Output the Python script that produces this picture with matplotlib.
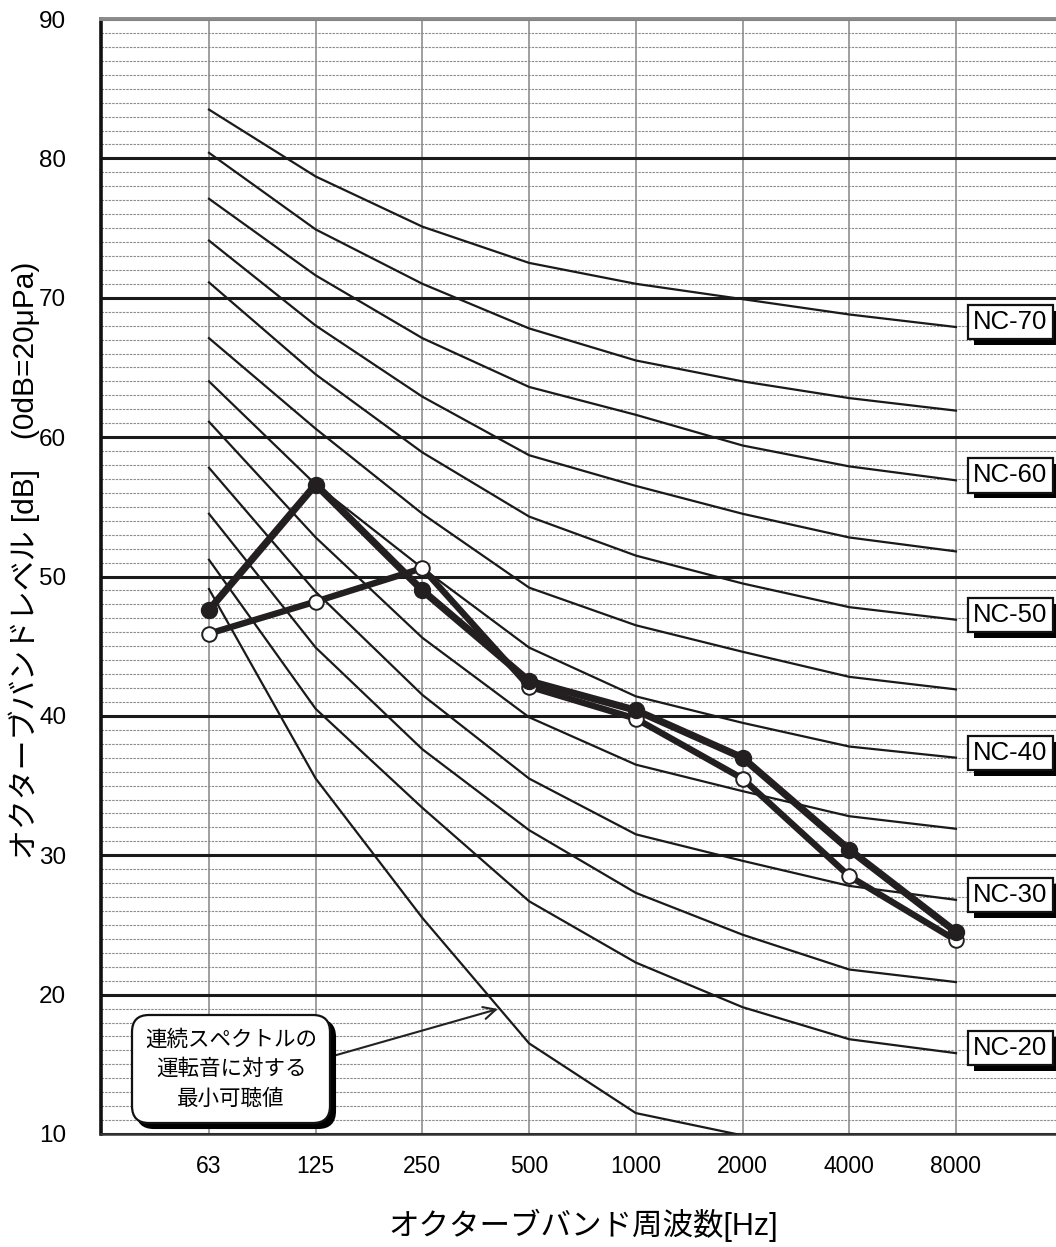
import matplotlib
matplotlib.use("Agg")
import matplotlib.pyplot as plt
from matplotlib.patches import FancyBboxPatch
import matplotlib.patheffects as pe

# ---------------- data ----------------
freqs = ["63", "125", "250", "500", "1000", "2000", "4000", "8000"]

nc70 = [83.5, 78.7, 75.1, 72.5, 71.0, 69.9, 68.8, 67.9]
nc65 = [80.4, 74.9, 71.0, 67.8, 65.5, 64.0, 62.8, 61.9]
nc60 = [77.1, 71.6, 67.1, 63.6, 61.6, 59.4, 57.9, 56.9]
nc55 = [74.1, 68.0, 62.9, 58.7, 56.5, 54.5, 52.8, 51.8]
nc50 = [71.1, 64.5, 58.9, 54.3, 51.5, 49.5, 47.8, 46.9]
nc45 = [67.1, 60.6, 54.5, 49.2, 46.5, 44.6, 42.8, 41.9]
nc40 = [64.0, 56.6, 50.6, 44.9, 41.4, 39.5, 37.8, 37.0]
nc35 = [61.1, 52.8, 45.6, 39.9, 36.5, 34.6, 32.8, 31.9]
nc30 = [57.8, 48.9, 41.5, 35.5, 31.5, 29.6, 27.8, 26.8]
nc25 = [54.5, 44.9, 37.6, 31.8, 27.3, 24.3, 21.8, 20.9]
nc20 = [51.2, 40.5, 33.4, 26.7, 22.3, 19.1, 16.8, 15.8]
threshold_x = ["63", "125", "250", "500", "1000", "2000"]
threshold = [49.1, 35.5, 25.5, 16.5, 11.5, 9.9]

nc_curves = [nc70, nc65, nc60, nc55, nc50, nc45, nc40, nc35, nc30, nc25, nc20]
nc_label_names = ["NC-70", "NC-60", "NC-50", "NC-40", "NC-30", "NC-20"]
nc_label_curves = [nc70, nc60, nc50, nc40, nc30, nc20]

series_filled = [47.6, 56.6, 49.0, 42.5, 40.4, 37.0, 30.4, 24.5]
series_open = [45.9, 48.2, 50.6, 42.1, 39.8, 35.5, 28.5, 23.9]

y_ticks = [10, 20, 30, 40, 50, 60, 70, 80, 90]
y_minor = list(range(10, 91))

annot_text = "連続スペクトルの\n運転音に対する\n最小可聴値"
xlabel = "オクターブバンド周波数[Hz]"
ylabel = "オクターブバンドレベル [dB]\u3000(0dB=20μPa)"

# ---------------- figure ----------------
W, H = 1056, 1247
fig = plt.figure(figsize=(W / 100, H / 100), dpi=100)
ax = fig.add_axes([101 / W, 1 - 1134 / H, 961.7 / W, 1115 / H])

pos = list(range(1, len(freqs) + 1))
ax.set_xlim(-0.012, 9.0)
ax.set_ylim(10, 90)

narrow = ["Liberation Sans Narrow", "Liberation Sans", "DejaVu Sans"]
cjk = ["Liberation Sans", "Noto Sans CJK JP", "DejaVu Sans"]

# grid
ax.set_yticks(y_ticks)
ax.set_yticks(y_minor, minor=True)
ax.set_xticks(pos)
ax.set_xticklabels(freqs, fontfamily=narrow, fontsize=16.5)
ax.set_yticklabels([str(v) for v in y_ticks], fontfamily=narrow, fontsize=17.5)
ax.tick_params(axis="both", which="both", length=0)
ax.tick_params(axis="y", pad=25)
ax.tick_params(axis="x", pad=15)
ax.grid(which="minor", axis="y", color="#8c8c8c", lw=0.8, ls=(0, (2.2, 1.0)))
ax.grid(which="major", axis="y", color="#1a1a1a", lw=2.2)
ax.grid(which="major", axis="x", color="#8f8f8f", lw=1.2)
ax.set_axisbelow(True)

ax.spines["right"].set_visible(False)
ax.spines["left"].set_color("#111111")
ax.spines["left"].set_linewidth(2.6)
ax.spines["top"].set_color("#8a8a8a")
ax.spines["top"].set_linewidth(2.8)
ax.spines["bottom"].set_color("#333333")
ax.spines["bottom"].set_linewidth(1.8)

# NC curves
for c in nc_curves:
    ax.plot(pos, c, color="#1a1a1a", lw=1.6, zorder=3)
ax.plot([freqs.index(f) + 1 for f in threshold_x], threshold,
        color="#1a1a1a", lw=1.6, zorder=3)

# NC labels
for name, c in zip(nc_label_names, nc_label_curves):
    t = ax.text(8.51, c[-1] + 0.35, name, ha="center", va="center",
                fontfamily=narrow, fontsize=18.5, zorder=6,
                bbox=dict(boxstyle="square,pad=0.2", fc="white",
                          ec="#111111", lw=1.6))
    t.get_bbox_patch().set_path_effects([
        pe.SimplePatchShadow(offset=(4.2, -4.2), shadow_rgbFace="black", alpha=1.0),
        pe.Normal()])

# data series
ax.plot(pos, series_open, color="#231f20", lw=4.6, marker="o", ms=10.5,
        mfc="white", mec="#231f20", mew=1.4, zorder=7)
ax.plot(pos, series_filled, color="#231f20", lw=5.2, marker="o", ms=11.5,
        mfc="#231f20", mec="#231f20", zorder=8)

# annotation box (in inches on the figure)
tr = fig.dpi_scale_trans
bx0, by0, bw, bh = 1.32, 1.24, 1.98, 1.08
shadow = FancyBboxPatch((bx0 + 0.05, by0 - 0.05), bw, bh,
                        boxstyle="round,pad=0,rounding_size=0.17",
                        transform=tr, fc="black", ec="black", lw=1.5, zorder=9)
box = FancyBboxPatch((bx0, by0), bw, bh,
                     boxstyle="round,pad=0,rounding_size=0.17",
                     transform=tr, fc="white", ec="#111111", lw=1.6, zorder=10)
fig.patches.extend([shadow, box])
fig.text(bx0 + bw / 2, by0 + bh / 2, annot_text, transform=tr,
         ha="center", va="center", multialignment="center",
         fontfamily=["Noto Sans CJK JP", "DejaVu Sans"], fontsize=15.5,
         linespacing=1.45, zorder=11)

ax.annotate("", xy=(3.708, 18.97), xycoords="data",
            xytext=(3.33, 1.91), textcoords=tr,
            arrowprops=dict(arrowstyle="->", lw=1.5, color="#222222",
                            mutation_scale=22, shrinkA=0, shrinkB=0),
            zorder=9)

# axis labels
fig.text(583 / W, 1 - 1225 / H, xlabel, ha="center", va="center",
         fontfamily=cjk, fontsize=22)
fig.text(24 / W, 1 - 560 / H, ylabel, ha="center", va="center",
         rotation=90, fontfamily=cjk, fontsize=21.5)

fig.savefig("out.png", dpi=100)
